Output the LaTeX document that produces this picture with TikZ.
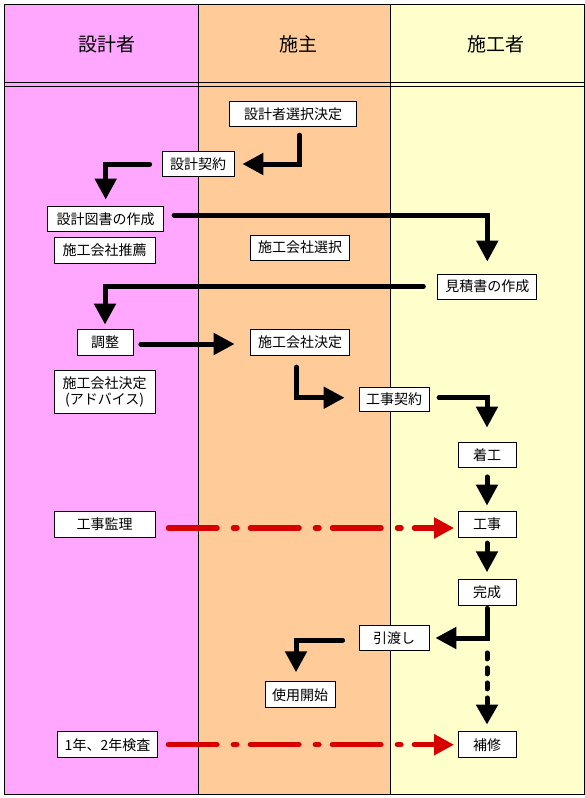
\documentclass[tikz,border=0pt]{standalone}
\usepackage{fontspec}
\setmainfont{Noto Sans CJK JP}
\usetikzlibrary{arrows.meta,calc}
\definecolor{colA}{RGB}{255,166,255}
\definecolor{colB}{RGB}{255,204,153}
\definecolor{colC}{RGB}{255,255,204}
\definecolor{arrred}{RGB}{214,0,0}
\begin{document}
\begin{tikzpicture}[x=1pt,y=-1pt,
  box/.style={draw=black, line width=0.8pt, fill=white, inner sep=0pt,
    minimum height=25pt, font=\fontsize{14}{16}\selectfont},
  head/.style={font=\fontsize{19}{21}\selectfont},
  blk/.style={line width=5pt, line cap=round, line join=miter,
    -{Triangle[length=21pt,width=21pt]}},
  blkdot/.style={line width=5pt, line cap=round, dash pattern=on 6pt off 9pt,
    -{Triangle[length=20pt,width=21pt]}},
  redarrow/.style={draw=arrred, line width=5.5pt, line cap=round,
    dash pattern=on 48.5pt off 16.5pt on 3.5pt off 13.5pt,
    -{Triangle[length=20pt,width=20pt]}}
]
\useasboundingbox (0,0) rectangle (585,798);
% lanes
\fill[colA] (4.5,4.5) rectangle (198.5,794);
\fill[colB] (198.5,4.5) rectangle (390.5,794);
\fill[colC] (390.5,4.5) rectangle (584,794);
\draw[line width=1pt] (4.5,4.5) rectangle (584,794);
\draw[line width=1pt] (198.5,4.5) -- (198.5,794);
\draw[line width=1pt] (390.5,4.5) -- (390.5,794);
\draw[line width=1pt] (4.5,82.5) -- (584,82.5);
\draw[line width=1pt] (4.5,86.5) -- (584,86.5);
% headers
\node[head] (h1) at (107,44) {設計者};
\node[head] (h2) at (298,44) {施主};
\node[head] (h3) at (496,44) {施工者};
% boxes
\node[box, minimum width=127pt] (sentaku) at (293,114) {設計者選択決定};
\node[box, minimum width=72pt] (sekkeikeiyaku) at (198,164) {設計契約};
\node[box, minimum width=116pt] (zusho) at (105.7,219) {設計図書の作成};
\node[box, minimum width=101pt, minimum height=26pt] (suisen) at (104.6,250) {施工会社推薦};
\node[box, minimum width=99pt] (sentei) at (300,247.5) {施工会社選択};
\node[box, minimum width=99pt] (mitsumori) at (487.3,286.5) {見積書の作成};
\node[box, minimum width=56pt, minimum height=26pt] (chosei) at (105,342) {調整};
\node[box, minimum width=99pt, minimum height=26pt] (kettei) at (300,342) {施工会社決定};
\node[box, minimum width=101pt, minimum height=43pt, align=center] (advice) at (104.6,391.7) {施工会社決定\\(アドバイス)};
\node[box, minimum width=70pt, minimum height=24pt] (kojikeiyaku) at (394,399) {工事契約};
\node[box, minimum width=58pt] (chakko) at (487,455) {着工};
\node[box, minimum width=101pt, minimum height=26pt] (kanri) at (104.6,524) {工事監理};
\node[box, minimum width=58pt, minimum height=26pt] (koji) at (487,524) {工事};
\node[box, minimum width=58pt, minimum height=26pt] (kansei) at (487,592) {完成};
\node[box, minimum width=70pt] (hikiwatashi) at (394,638) {引渡し};
\node[box, minimum width=70pt, minimum height=26pt] (shiyo) at (300,694.7) {使用開始};
\node[box, minimum width=100pt, minimum height=26pt] (kensa) at (107.5,744.7) {1年、2年検査};
\node[box, minimum width=58pt, minimum height=26pt] (hoshu) at (487,744.7) {補修};
% black arrows
\draw[blk] ($(sentaku.south)+(6.6,8.3)$) |- ($(sekkeikeiyaku.east)+(8,0)$);
\draw[blk] ($(sekkeikeiyaku.west)+(-12,0)$) -| ($(zusho.north)+(0,-6.5)$);
\draw[blk] ($(zusho.east)+(10,-4)$) -| ($(mitsumori.north)+(0,-12)$);
\draw[blk] ($(mitsumori.west)+(-14,0)$) -| ($(chosei.north)+(0,-4)$);
\draw[blk] ($(chosei.east)+(7.5,2)$) -- ($(kettei.west)+(-15.5,2)$);
\draw[blk] ($(kettei.south)+(-3.4,11.7)$) |- ($(kojikeiyaku.west)+(-14,-1.3)$);
\draw[blk] ($(kojikeiyaku.east)+(9.7,-1.3)$) -| ($(chakko.north)+(0,-14.5)$);
\draw[blk] ($(chakko.south)+(0,9)$) -- ($(koji.north)+(0,-5)$);
\draw[blk] ($(koji.south)+(0,5.7)$) -- ($(kansei.north)+(0,-6.3)$);
\draw[blk] ($(kansei.south)+(0,3)$) |- ($(hikiwatashi.east)+(6,0)$);
\draw[blk] ($(hikiwatashi.west)+(-16,2)$) -| ($(shiyo.north)+(-4,-9)$);
\draw[blkdot] ($(kansei.south)+(0,47.5)$) -- ($(hoshu.north)+(0,-6.7)$);
% red arrows
\draw[redarrow] ($(kanri.east)+(13,4)$) -- ($(koji.west)+(-3.5,4)$);
\draw[redarrow] ($(kensa.east)+(10.5,0)$) -- ($(hoshu.west)+(-3.5,0)$);
\end{tikzpicture}
\end{document}
